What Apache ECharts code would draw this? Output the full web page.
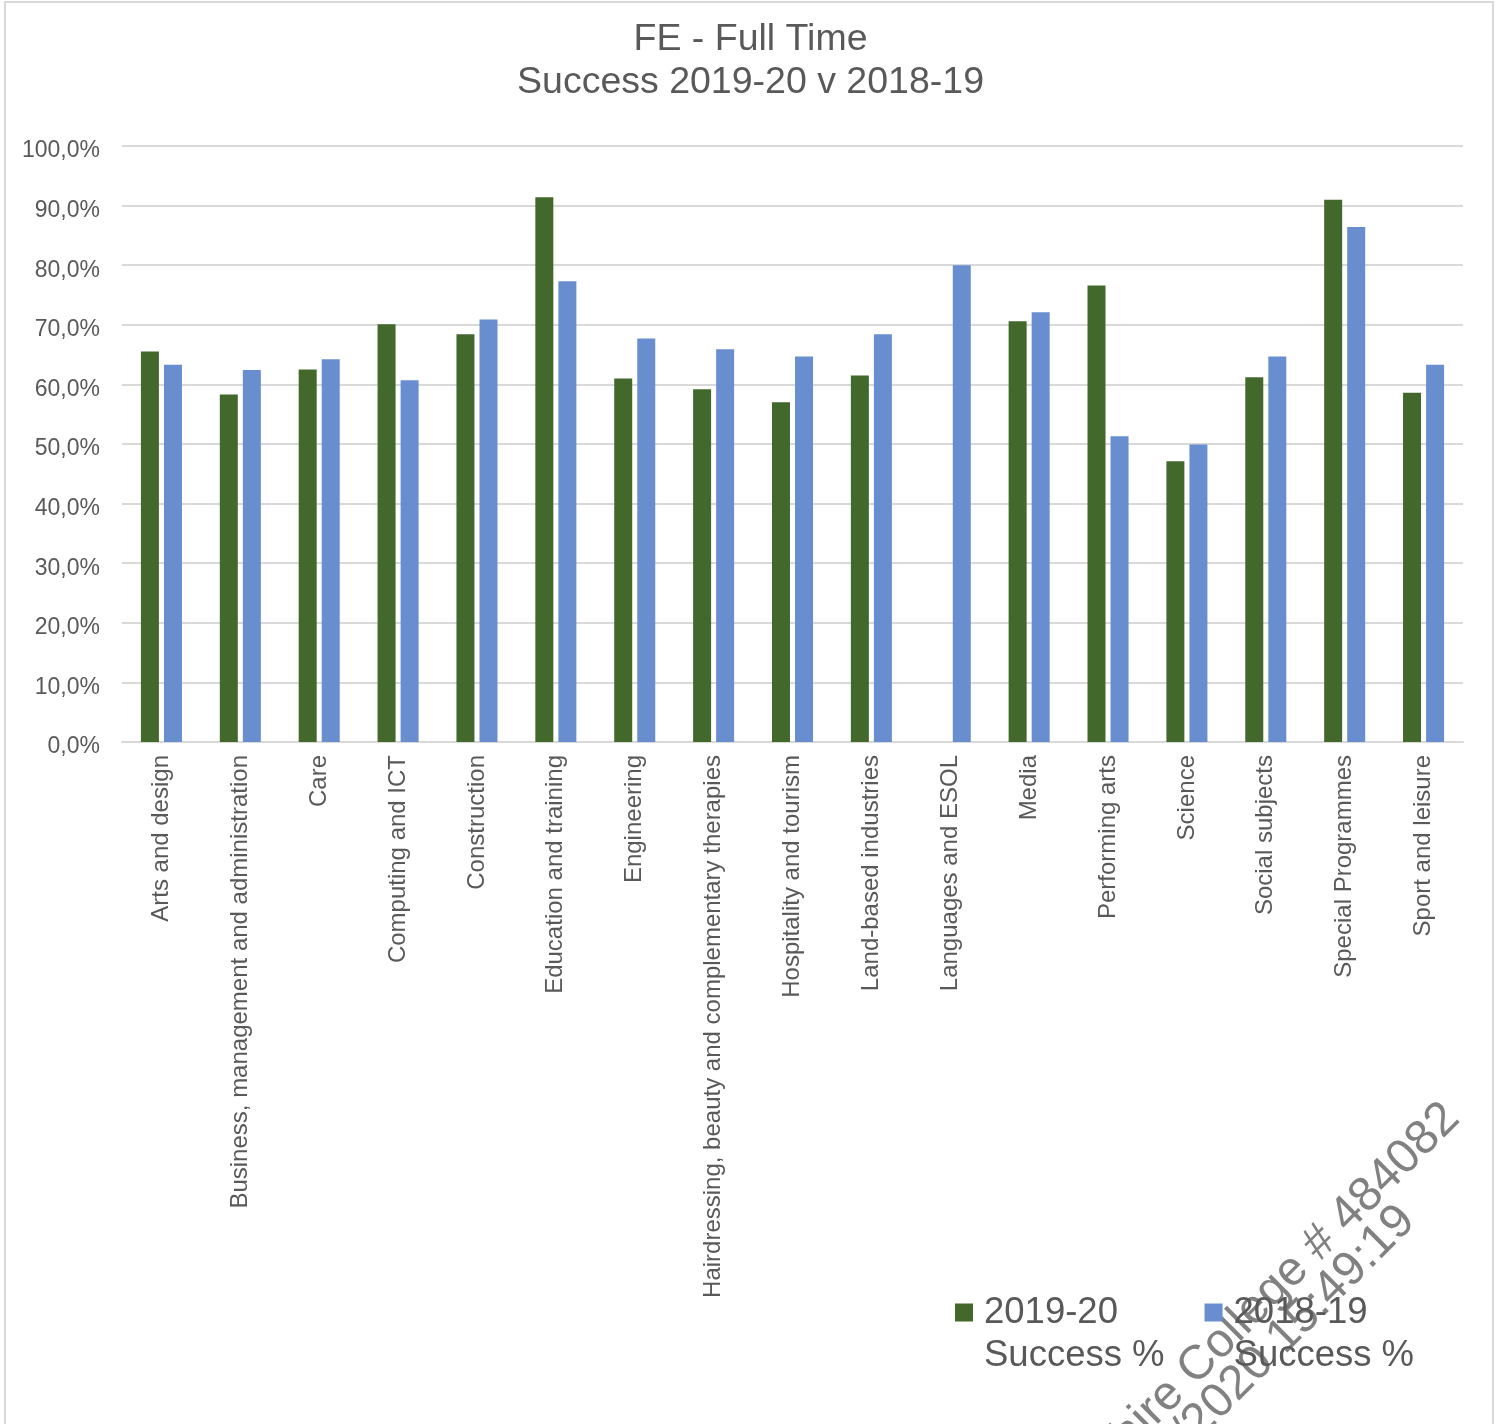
<!DOCTYPE html>
<html>
<head>
<meta charset="utf-8">
<script src="https://cdn.jsdelivr.net/npm/echarts@6/dist/echarts.min.js"></script>
<style>
html,body{margin:0;padding:0;background:#fff;}
#chart{width:1501px;height:1424px;}
</style>
</head>
<body>
<div id="chart"></div>
<script>
const categories = [
  'Arts and design',
  'Business, management and administration',
  'Care',
  'Computing and ICT',
  'Construction',
  'Education and training',
  'Engineering',
  'Hairdressing, beauty and complementary therapies',
  'Hospitality and tourism',
  'Land-based industries',
  'Languages and ESOL',
  'Media',
  'Performing arts',
  'Science',
  'Social subjects',
  'Special Programmes',
  'Sport and leisure'
];
const success2019_20 = [65.5, 58.3, 62.5, 70.1, 68.4, 91.4, 61.0, 59.2, 57.0, 61.5, null, 70.6, 76.6, 47.1, 61.2, 91.0, 58.6];
const success2018_19 = [63.3, 62.4, 64.2, 60.7, 70.9, 77.3, 67.7, 65.9, 64.7, 68.4, 80.0, 72.1, 51.3, 49.9, 64.7, 86.4, 63.3];
const seriesNames = ['2019-20 Success %', '2018-19 Success %'];
const legendLabels = {'2019-20 Success %': '2019-20\nSuccess %', '2018-19 Success %': '2018-19\nSuccess %'};
const yTicks = {min: 0, max: 100, interval: 10};
const titleLines = ['FE - Full Time', 'Success 2019-20 v 2018-19'];
const watermarkLines = ['Hertfordshire College # 484082', '01/10/2020 15:49:19'];

const FONT = '"Liberation Sans", Arial, sans-serif';
const TXT = '#595959';

const chart = echarts.init(document.getElementById('chart'), null, {renderer: 'canvas'});
chart.setOption({
  backgroundColor: '#ffffff',
  animation: false,
  title: {
    text: titleLines.join('\n'),
    left: 'center',
    top: 18,
    padding: 0,
    textStyle: {fontFamily: FONT, fontSize: 37.5, fontWeight: 'normal', color: TXT, lineHeight: 43, align: 'center'}
  },
  legend: {
    data: seriesNames,
    left: 955,
    top: 1248,
    padding: 0,
    itemWidth: 18,
    itemHeight: 18,
    itemGap: 40,
    icon: 'rect',
    formatter: function (name) { return '\n' + legendLabels[name]; },
    textStyle: {fontFamily: FONT, fontSize: 36.5, color: TXT, lineHeight: 43, padding: [0, 0, 0, 6]}
  },
  grid: {left: 122, right: 38, top: 146, bottom: 682, containLabel: false},
  xAxis: {
    type: 'category',
    data: categories,
    axisLine: {show: true, lineStyle: {color: '#d9d9d9', width: 2}},
    axisTick: {show: false},
    axisLabel: {rotate: 90, interval: 0, margin: 13, fontFamily: FONT, fontSize: 24, color: TXT}
  },
  yAxis: {
    type: 'value',
    min: yTicks.min,
    max: yTicks.max,
    interval: yTicks.interval,
    axisLine: {show: false},
    axisTick: {show: false},
    splitLine: {lineStyle: {color: '#d9d9d9', width: 2}},
    axisLabel: {
      margin: 22, fontFamily: FONT, fontSize: 23, color: TXT, verticalAlign: 'top', lineHeight: 10,
      formatter: function (v) { return v.toFixed(1).replace('.', ',') + '%'; }
    }
  },
  series: [
    {name: seriesNames[0], type: 'bar', data: success2019_20, barWidth: 18, barGap: '28%', itemStyle: {color: '#43682b'}},
    {name: seriesNames[1], type: 'bar', data: success2018_19, barWidth: 18, barGap: '28%', itemStyle: {color: '#698ed0'}}
  ],
  graphic: [
    {type: 'rect', silent: true, z: -10, shape: {x: 5, y: 2, width: 1488, height: 1460}, style: {fill: 'none', stroke: '#d9d9d9', lineWidth: 2}},
    {
      type: 'group', x: 1452, y: 1111, rotation: 45 * Math.PI / 180, z: 100, silent: true,
      children: [
        {type: 'text', x: 0, y: 0, style: {text: watermarkLines[0], align: 'right', verticalAlign: 'middle', fontFamily: FONT, fontSize: 48, fill: 'rgba(115,115,115,0.9)'}},
        {type: 'text', x: -104, y: 41, style: {text: watermarkLines[1], align: 'right', verticalAlign: 'middle', fontFamily: FONT, fontSize: 48, fill: 'rgba(115,115,115,0.9)'}}
      ]
    }
  ]
});
</script>
</body>
</html>
